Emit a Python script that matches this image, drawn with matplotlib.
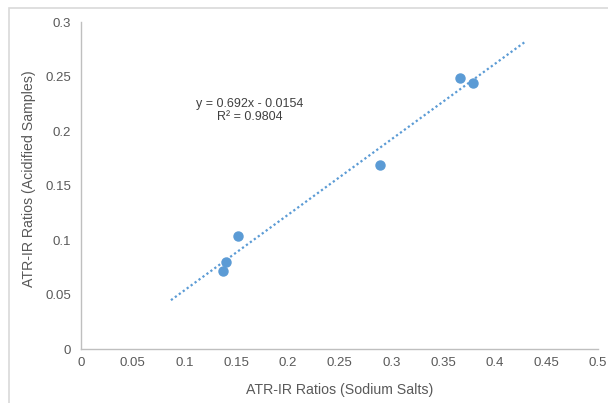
import matplotlib
matplotlib.use("Agg")
import matplotlib.pyplot as plt
import numpy as np
from matplotlib.patches import Rectangle

plt.rcParams['font.family'] = ['Liberation Sans', 'DejaVu Sans']

x_sodium = [0.152, 0.140, 0.137, 0.289, 0.367, 0.379]
y_acid = [0.104, 0.080, 0.0716, 0.169, 0.249, 0.244]
slope = 0.692
intercept = -0.0154
trend_x = [0.087, 0.43]
x_ticks = [0, 0.05, 0.1, 0.15, 0.2, 0.25, 0.3, 0.35, 0.4, 0.45, 0.5]
y_ticks = [0, 0.05, 0.1, 0.15, 0.2, 0.25, 0.3]
x_tick_labels = ['0', '0.05', '0.1', '0.15', '0.2', '0.25', '0.3', '0.35', '0.4', '0.45', '0.5']
y_tick_labels = ['0', '0.05', '0.1', '0.15', '0.2', '0.25', '0.3']

W, H = 608, 403
fig = plt.figure(figsize=(W/100, H/100), dpi=100)
fig.patch.set_facecolor('white')
fig.patches.append(Rectangle((9/W, -0.1), 1.2, (403-8)/H + 0.1, transform=fig.transFigure,
                             fill=False, edgecolor='#D9D9D9', linewidth=1.2))

ax = fig.add_axes([81/W, (H-349)/H, (598-81)/W, (349-22)/H])
ax.set_xlim(0, 0.5)
ax.set_ylim(0, 0.3)

tx = np.array(trend_x)
ax.plot(tx, slope*tx + intercept, linestyle=(0, (1, 1.2)), color='#5B9BD5', linewidth=1.6, zorder=2)
ax.plot(x_sodium, y_acid, 'o', color='#5B9BD5', markersize=6.5, zorder=3)

ax.set_xticks(x_ticks)
ax.set_xticklabels(x_tick_labels)
ax.set_yticks(y_ticks)
ax.set_yticklabels(y_tick_labels)
ax.tick_params(axis='both', length=0, labelsize=9.5, labelcolor='#595959')
ax.tick_params(axis='x', pad=6)
ax.tick_params(axis='y', pad=7)

for s in ['top', 'right']:
    ax.spines[s].set_visible(False)
for s in ['left', 'bottom']:
    ax.spines[s].set_color('#BFBFBF')
    ax.spines[s].set_linewidth(1.0)

ax.set_xlabel('ATR-IR Ratios (Sodium Salts)', fontsize=10.2, color='#595959')
ax.xaxis.set_label_coords(0.5, -0.105)
ax.set_ylabel('ATR-IR Ratios (Acidified Samples)', fontsize=10.2, color='#595959')
ax.yaxis.set_label_coords(-0.088, 0.52)

ax.text(0.163, 0.219, 'y = 0.692x - 0.0154\nR\u00b2 = 0.9804', fontsize=9.0, color='#404040',
        ha='center', va='center', linespacing=1.15)

fig.savefig('out.png', dpi=100)
